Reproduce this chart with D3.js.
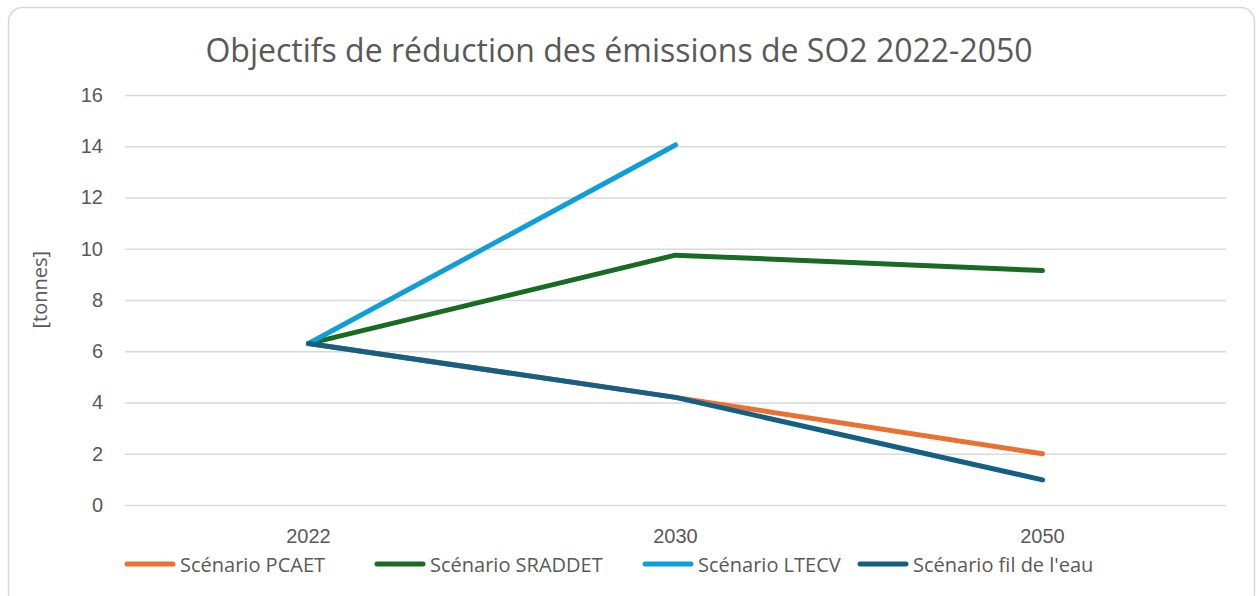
<!DOCTYPE html>
<html>
<head>
<meta charset="utf-8">
<script src="https://cdn.jsdelivr.net/npm/d3@7"></script>
<style>
  body { margin: 0; background: #fff; }
  svg { display: block; font-family: "Open Sans", "Noto Sans", sans-serif; }
</style>
</head>
<body>
<div id="chart"></div>
<script>
const years = ["2022", "2030", "2050"];
const seriesNames = ["Scénario PCAET", "Scénario SRADDET", "Scénario LTECV", "Scénario fil de l'eau"];
const pcaet = [6.3, 4.2, 2.0];
const sraddet = [6.3, 9.75, 9.15];
const ltecv = [6.3, 14.05, null];
const filDeLeau = [6.3, 4.2, 0.98];
const yTicks = [0, 2, 4, 6, 8, 10, 12, 14, 16];
const colors = ["#E97132", "#196B24", "#0F9ED5", "#156082"];

const width = 1258, height = 596;
const margin = { top: 95, right: 32, bottom: 91, left: 125 };

const svg = d3.select("#chart")
    .append("svg")
    .attr("width", width)
    .attr("height", height);

// chart frame
svg.append("rect")
    .attr("x", 8.5).attr("y", 7.5)
    .attr("width", 1246).attr("height", 600)
    .attr("rx", 14)
    .attr("fill", "#fff")
    .attr("stroke", "#d9d9d9")
    .attr("stroke-width", 1.5);

// Scales
const x = d3.scaleBand()
    .domain(years)
    .range([margin.left, width - margin.right]);

const y = d3.scaleLinear()
    .domain([0, 16])
    .range([height - margin.bottom, margin.top]);

// gridlines + y labels
const yAxis = g => g
    .attr("transform", `translate(${margin.left},0)`)
    .call(d3.axisLeft(y).tickValues(yTicks).tickSize(-(width - margin.right - margin.left)).tickPadding(22))
    .call(g => g.select(".domain").remove())
    .call(g => g.selectAll(".tick line").attr("stroke", "#d9d9d9").attr("stroke-width", 1.5))
    .call(g => g.selectAll(".tick text").attr("fill", "#595959").attr("font-size", 20));

svg.append("g").call(yAxis);

const xAxis = g => g
    .attr("transform", `translate(0,${height - margin.bottom})`)
    .call(d3.axisBottom(x).tickSize(0).tickPadding(24))
    .call(g => g.select(".domain").remove())
    .call(g => g.selectAll(".tick text").attr("fill", "#595959").attr("font-size", 20));

svg.append("g").call(xAxis);

// title
svg.append("text")
    .attr("x", 619)
    .attr("y", 62)
    .attr("text-anchor", "middle")
    .attr("fill", "#595959")
    .attr("font-size", 32)
    .text("Objectifs de réduction des émissions de SO2 2022-2050");

// y axis title
svg.append("text")
    .attr("transform", `translate(47,${y(8.4)}) rotate(-90)`)
    .attr("text-anchor", "middle")
    .attr("fill", "#595959")
    .attr("font-size", 20)
    .text("[tonnes]");

// lines
const allSeries = [pcaet, sraddet, ltecv, filDeLeau];
const line = d3.line()
    .defined(d => d.v != null)
    .x(d => x(d.year) + x.bandwidth() / 2)
    .y(d => y(d.v));

allSeries.forEach((values, i) => {
    svg.append("path")
        .datum(years.map((yr, j) => ({ year: yr, v: values[j] })))
        .attr("d", line)
        .attr("fill", "none")
        .attr("stroke", colors[i])
        .attr("stroke-width", 5)
        .attr("stroke-linecap", "round")
        .attr("stroke-linejoin", "round");
});

// legend
const legendX = [125, 375, 643, 858];
const legend = svg.append("g").attr("transform", "translate(0,564)");
seriesNames.forEach((name, i) => {
    const row = legend.append("g").attr("transform", `translate(${legendX[i]},0)`);
    row.append("line")
        .attr("x1", 2).attr("x2", 48)
        .attr("stroke", colors[i])
        .attr("stroke-width", 5)
        .attr("stroke-linecap", "round");
    row.append("text")
        .attr("x", 55).attr("y", 8)
        .attr("fill", "#595959")
        .attr("font-size", 20)
        .text(name);
});
</script>
</body>
</html>
